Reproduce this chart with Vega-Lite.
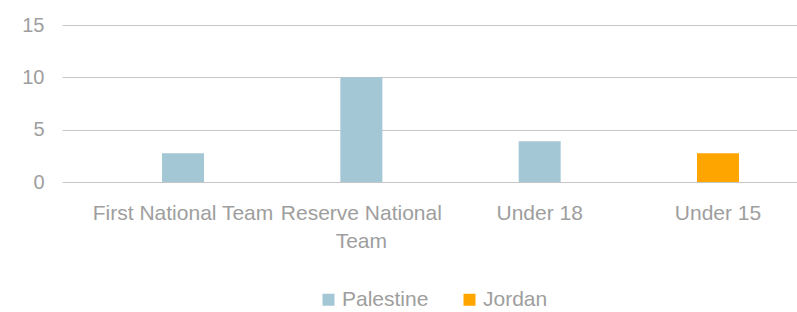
{
  "$schema": "https://vega.github.io/schema/vega-lite/v6.json",
  "width": 735,
  "height": 157,
  "autosize": "none",
  "padding": {"left": 62, "top": 25, "right": 0, "bottom": 130},
  "background": "white",
  "config": {"view": {"stroke": null}, "font": "Liberation Sans"},
  "data": {"values": [
    {"category": "First National Team", "country": "Palestine", "value": 2.75},
    {"category": "Reserve National Team", "country": "Palestine", "value": 10},
    {"category": "Under 18", "country": "Palestine", "value": 3.9},
    {"category": "Under 15", "country": "Jordan", "value": 2.75}
  ]},
  "mark": {"type": "bar", "width": 42},
  "encoding": {
    "x": {
      "field": "category", "type": "nominal", "sort": null,
      "scale": {"paddingInner": 0.7644, "paddingOuter": 0.443, "align": 0.633},
      "axis": {
        "title": null, "domain": false, "ticks": false, "labelAngle": 0,
        "labelFontSize": 21, "labelColor": "#9e9e9e", "labelPadding": 20,
        "labelLimit": 300, "labelOverlap": false, "labelLineHeight": 28,
        "labelExpr": "datum.label == 'Reserve National Team' ? ['Reserve National', 'Team'] : datum.label"
      }
    },
    "y": {
      "field": "value", "type": "quantitative",
      "scale": {"domain": [0, 15], "nice": false},
      "axis": {
        "title": null, "domain": false, "ticks": false, "values": [0, 5, 10, 15],
        "labelFontSize": 20, "labelColor": "#9e9e9e", "labelPadding": 18,
        "gridColor": "#c6c6c6", "gridWidth": 1
      }
    },
    "color": {
      "field": "country", "type": "nominal",
      "scale": {"domain": ["Palestine", "Jordan"], "range": ["#A4C7D5", "#FFA500"]},
      "legend": {
        "title": null, "orient": "none", "legendX": 256, "legendY": 264,
        "direction": "horizontal", "symbolType": "square", "symbolSize": 144,
        "symbolStrokeWidth": 0, "labelFontSize": 21, "labelColor": "#9e9e9e",
        "columnPadding": 30, "labelOffset": 3, "padding": 0
      }
    }
  }
}
